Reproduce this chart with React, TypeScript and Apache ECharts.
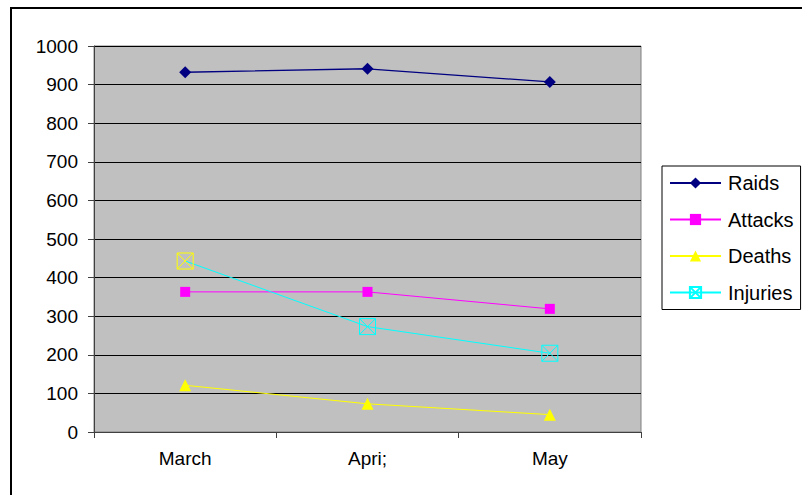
import React, { useEffect, useRef } from "react";
import * as echarts from "echarts";

const categories = ["March", "Apri;", "May"];
const raids = [932, 941, 907];
const attacks = [363, 363, 319];
const deaths = [121, 73, 45];
const injuries = [443, 273, 204];

const FONT = "'Liberation Sans', Arial, sans-serif";

export default function App() {
  const ref = useRef<HTMLDivElement>(null);
  useEffect(() => {
    if (!ref.current) return;
    const chart = echarts.init(ref.current, undefined, { renderer: "svg" });
    const injuriesData = injuries.map((v, i) =>
      i === 0 ? { value: v, itemStyle: { borderColor: "#FFFF00" } } : v
    );
    chart.setOption({
      animation: false,
      backgroundColor: "#ffffff",
      textStyle: { fontFamily: FONT },
      graphic: [
        {
          type: "rect",
          shape: { x: 11, y: 8, width: 900, height: 600 },
          style: { fill: "none", stroke: "#000", lineWidth: 2 },
          silent: true,
        },
      ],
      grid: {
        left: 94,
        top: 46,
        right: 161,
        bottom: 63,
        show: true,
        backgroundColor: "#C0C0C0",
        borderColor: "#808080",
        borderWidth: 1,
      },
      legend: {
        orient: "vertical",
        left: 662,
        top: 166,
        padding: [7, 7, 7, 7],
        itemWidth: 51,
        itemHeight: 14,
        itemGap: 16.5,
        borderColor: "#000",
        borderWidth: 1,
        backgroundColor: "#fff",
        textStyle: { fontFamily: FONT, fontSize: 20, color: "#000", padding: [0, 0, 0, 2] },
        data: ["Raids", "Attacks", "Deaths", "Injuries"],
      },
      xAxis: {
        type: "category",
        data: categories,
        boundaryGap: true,
        axisLine: { lineStyle: { color: "#404040", width: 1 } },
        axisTick: { show: true, length: 6, lineStyle: { color: "#404040" } },
        axisLabel: { fontFamily: FONT, fontSize: 19, color: "#000", margin: 17 },
        splitLine: { show: false },
      },
      yAxis: {
        type: "value",
        min: 0,
        max: 1000,
        interval: 100,
        axisLine: { show: true, lineStyle: { color: "#404040", width: 1 } },
        axisTick: { show: true, length: 6, lineStyle: { color: "#404040" } },
        axisLabel: {
          fontFamily: FONT,
          fontSize: 19,
          color: "#000",
          margin: 16,
          formatter: (v: number) => String(v),
        },
        splitLine: { show: true, lineStyle: { color: "#000", width: 1 } },
      },
      series: [
        {
          name: "Raids",
          type: "line",
          data: raids,
          symbol: "diamond",
          symbolSize: 12,
          lineStyle: { color: "#000080", width: 1.3 },
          itemStyle: { color: "#000080" },
        },
        {
          name: "Attacks",
          type: "line",
          data: attacks,
          symbol: "rect",
          symbolSize: 10,
          lineStyle: { color: "#FF00FF", width: 1 },
          itemStyle: { color: "#FF00FF" },
        },
        {
          name: "Deaths",
          type: "line",
          data: deaths,
          symbol: "triangle",
          symbolSize: 12,
          lineStyle: { color: "#FFFF00", width: 1 },
          itemStyle: { color: "#FFFF00" },
        },
        {
          name: "Injuries",
          type: "line",
          data: injuriesData,
          symbol: "path://M0,0L10,0L10,10L0,10Z M0,0L10,10 M10,0L0,10",
          symbolSize: 16,
          lineStyle: { color: "#00FFFF", width: 1 },
          itemStyle: { color: "rgba(0,0,0,0)", borderColor: "#00FFFF", borderWidth: 1 },
        },
      ],
    });
    return () => chart.dispose();
  }, []);
  return (
    <div
      ref={ref}
      style={{ position: "absolute", left: 0, top: 0, width: 802, height: 495 }}
    />
  );
}
